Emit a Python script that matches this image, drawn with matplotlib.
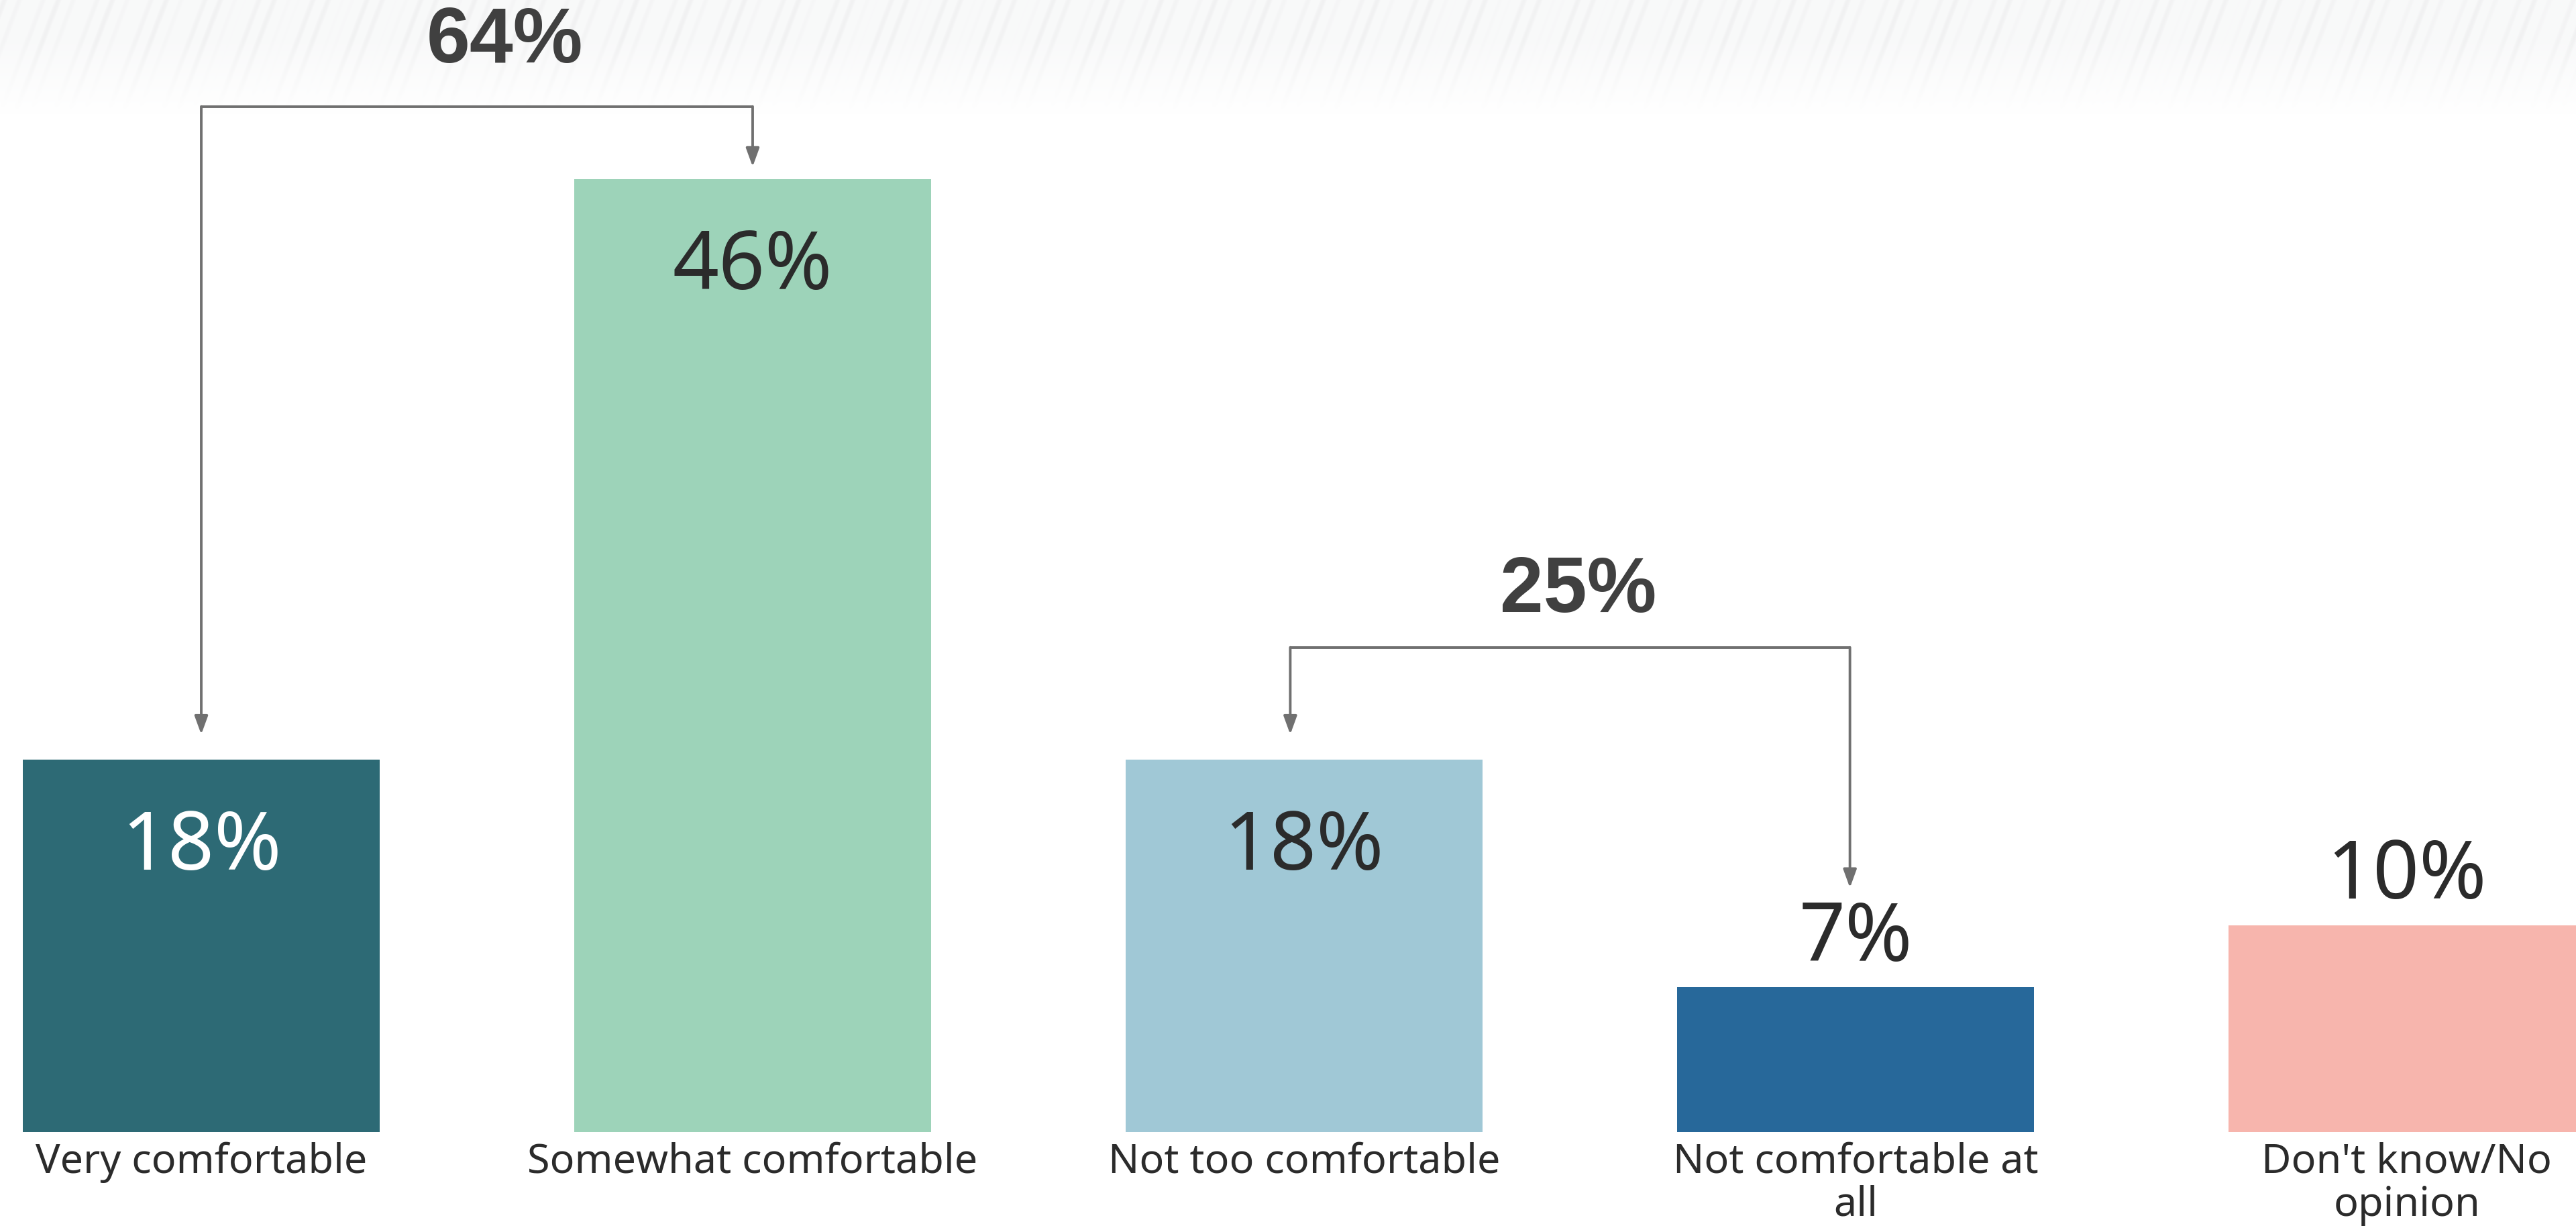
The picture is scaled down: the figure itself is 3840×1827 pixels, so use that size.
import numpy as np
import matplotlib
matplotlib.use("Agg")
import matplotlib.pyplot as plt

# ---- data ----
categories = ["Very comfortable", "Somewhat comfortable", "Not too comfortable",
              "Not comfortable at\nall", "Don't know/No\nopinion"]
values = [18, 46, 18, 7, 10]
colors = ["#2D6A75", "#9DD3B9", "#A0C8D6", "#27689A", "#F7B5AD"]
label_colors = ["#FFFFFF", "#2B2B2B", "#2B2B2B", "#2B2B2B", "#2B2B2B"]
net_labels = ["64%", "25%"]
net_pairs = [(0, 1), (2, 3)]

W, H = 3841, 1827
fig = plt.figure(figsize=(W / 100, H / 100), dpi=100)
fig.patch.set_facecolor("white")

# subtle hatched band at the top
band_h = 170
bg = fig.add_axes([0, 1 - band_h / H, 1, band_h / H], zorder=0)
yy, xx = np.mgrid[0:band_h, 0:W]
u = xx + yy * 0.38
s = 0.5 + 0.5 * np.sin(u * 2 * np.pi / 23.0) * np.sin(u * 2 * np.pi / 157.0 + 1.3)
s = np.clip((s - 0.55) / 0.45, 0, 1)
fade = np.clip(1.0 - (yy / band_h - 0.35) / 0.65, 0, 1)
base = 0.975 - 0.03 * s
img = np.ones((band_h, W, 3))
val = 1 - (1 - base) * fade
img[..., 0] = val
img[..., 1] = val + 0.002 * fade
img[..., 2] = val + 0.004 * fade
bg.imshow(np.clip(img, 0, 1), aspect="auto", interpolation="bilinear")
bg.axis("off")

ax = fig.add_axes([0, 0, 1, 1], zorder=1)
ax.patch.set_alpha(0)
ax.set_xlim(-0.365, 4.308)
ax.set_ylim(-4.52, 54.64)
ax.axis("off")

x = np.arange(len(values))
ax.bar(x, values, width=0.647, color=colors, zorder=2)

val_font = ["Noto Sans", "DejaVu Sans"]
for xi, v, lc in zip(x, values, label_colors):
    if v >= 15:
        ax.text(xi, v - 4.3, f"{v}%", ha="center", va="center", fontsize=87,
                color=lc, family=val_font, zorder=3)
    else:
        ax.text(xi, v + 2.3, f"{v}%", ha="center", va="center", fontsize=87,
                color="#2B2B2B", family=val_font, zorder=3)

for xi, c in zip(x, categories):
    ax.text(xi, -0.45, c, ha="center", va="top", fontsize=44, color="#2B2B2B",
            family=val_font, linespacing=1.08, zorder=3)

# brackets
line_c = "#707070"
bold_font = ["Liberation Sans Narrow", "Liberation Sans", "DejaVu Sans"]
bracket_y = [49.5, 23.4]
tips = [(19.2, 46.6), (19.2, 11.8)]
label_y = [52.6, 26.1]
label_dx = [0.05, 0.015]
for (a, b), lab, yh, (ta, tb), ly, dx in zip(net_pairs, net_labels, bracket_y, tips, label_y, label_dx):
    xa, xb = x[a] + (0.0 if a == 0 else -0.025), x[b] + (0.0 if a == 0 else -0.01)
    ax.plot([xa, xb], [yh, yh], color=line_c, lw=2.8, solid_capstyle="butt", zorder=3)
    for xx_, t in ((xa, ta), (xb, tb)):
        ax.annotate("", xy=(xx_, t), xytext=(xx_, yh),
                    arrowprops=dict(arrowstyle="-|>,head_length=0.55,head_width=0.2",
                                    color=line_c, lw=2.8, shrinkA=0, shrinkB=0,
                                    mutation_scale=30), zorder=3)
    ax.text((xa + xb) / 2 + dx, ly, lab, ha="center", va="center", fontsize=84,
            fontweight="bold", color="#404040", family=bold_font, zorder=3)

fig.savefig("out.png", dpi=100, facecolor="white")
